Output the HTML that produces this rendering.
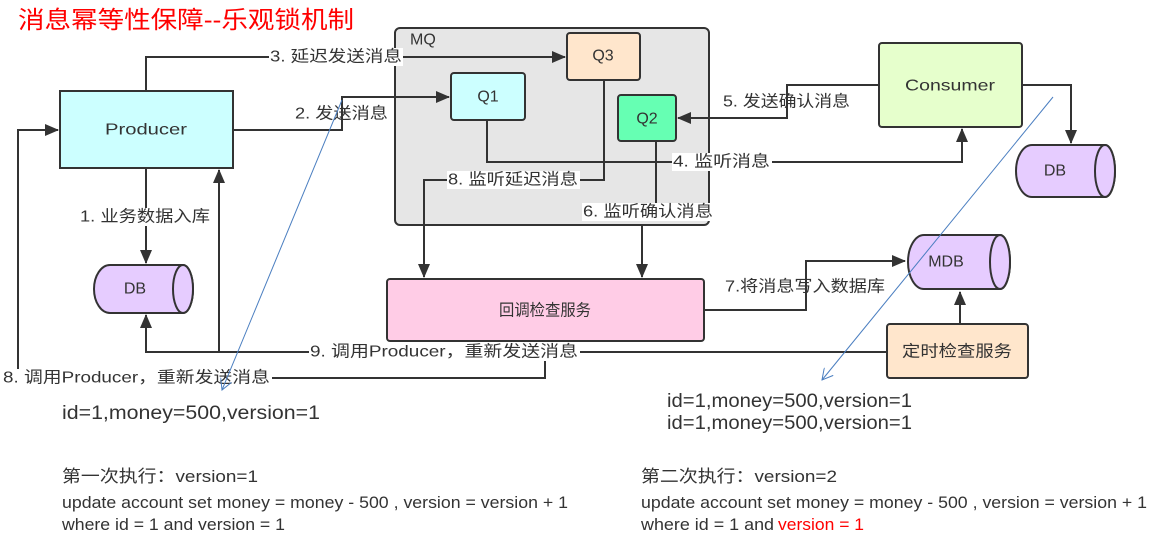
<!DOCTYPE html>
<html><head><meta charset="utf-8"><style>
body{margin:0;background:#fff;width:1159px;height:540px;overflow:hidden}
svg{display:block}
text{font-family:"Liberation Sans","Noto Sans CJK SC",sans-serif;fill:#333}
.n{font-size:16px;text-anchor:middle;dominant-baseline:central}
.e{font-size:16px;dominant-baseline:central}
.bg{fill:#fff}
</style></head><body>
<svg width="1159" height="540" viewBox="0 0 1159 540" xmlns="http://www.w3.org/2000/svg">
<defs>
<marker id="a" markerWidth="14" markerHeight="12" refX="13" refY="6" orient="auto" markerUnits="userSpaceOnUse"><path d="M0,0 L14,6 L0,12 Z" fill="#333"/></marker>
<marker id="b" markerWidth="12" markerHeight="12" refX="11" refY="6" orient="auto" markerUnits="userSpaceOnUse"><path d="M0,0 L11,6 L0,12" fill="none" stroke="#4a7ec0" stroke-width="1"/></marker>
</defs>
<text x="18" y="28" style="font-size:24px;fill:#f00" textLength="336" lengthAdjust="spacingAndGlyphs">消息幂等性保障--乐观锁机制</text>

<rect x="395" y="28" width="314" height="197" rx="5" fill="#e6e6e6" stroke="#333" stroke-width="2"/>
<text x="410" y="40" class="e">MQ</text>

<g fill="none" stroke="#333" stroke-width="2">
<path d="M146,91 V57 H565" marker-end="url(#a)"/>
<path d="M233,130 H342 V97 H449" marker-end="url(#a)"/>
<path d="M146,168 V263" marker-end="url(#a)"/>
<path d="M545,352 V378 H18 V130 H58" marker-end="url(#a)"/>
<path d="M887,352 H146 V315" marker-end="url(#a)"/>
<path d="M219,352 V170" marker-end="url(#a)"/>
<path d="M487,120 V162 H962 V129" marker-end="url(#a)"/>
<path d="M604,80 V180 H424 V277" marker-end="url(#a)"/>
<path d="M656,141 V212"/>
<path d="M642,225 V277" marker-end="url(#a)"/>
<path d="M879,85 H787 V118 H678" marker-end="url(#a)"/>
<path d="M1022,85 H1071 V143" marker-end="url(#a)"/>
<path d="M704,310 H806 V261 H905" marker-end="url(#a)"/>
<path d="M960,324 V292" marker-end="url(#a)"/>
</g>

<rect x="60" y="91" width="173" height="77" fill="#ccffff" stroke="#333" stroke-width="2"/>
<text x="146" y="130" class="n" textLength="82" lengthAdjust="spacingAndGlyphs">Producer</text>
<rect x="451" y="73" width="74" height="47" rx="3" fill="#ccffff" stroke="#333" stroke-width="2"/>
<text x="488" y="97" class="n">Q1</text>
<rect x="567" y="33" width="73" height="47" rx="3" fill="#ffe6cc" stroke="#333" stroke-width="2"/>
<text x="603" y="56" class="n">Q3</text>
<rect x="618" y="95" width="58" height="46" rx="3" fill="#66ffb3" stroke="#333" stroke-width="2"/>
<text x="647" y="119" class="n">Q2</text>
<rect x="879" y="43" width="143" height="84" rx="3" fill="#e6ffcc" stroke="#333" stroke-width="2"/>
<text x="950" y="86" class="n" textLength="90" lengthAdjust="spacingAndGlyphs">Consumer</text>
<rect x="387" y="279" width="317" height="62" rx="3" fill="#ffcce6" stroke="#333" stroke-width="2"/>
<text x="545" y="311" class="n" textLength="92" lengthAdjust="spacingAndGlyphs">回调检查服务</text>
<rect x="887" y="324" width="141" height="54" rx="3" fill="#ffe6cc" stroke="#333" stroke-width="2"/>
<text x="957" y="352" class="n" textLength="110" lengthAdjust="spacingAndGlyphs">定时检查服务</text>

<g stroke="#333" stroke-width="2" fill="#e6ccff">
<path d="M110,265 H183 A10,24 0 0 1 183,313 H110 A16,24 0 0 1 110,265 Z"/>
<ellipse cx="183" cy="289" rx="10" ry="24"/>
<path d="M1032,145 H1105 A10,26 0 0 1 1105,197 H1032 A16,26 0 0 1 1032,145 Z"/>
<ellipse cx="1105" cy="171" rx="10" ry="26"/>
<path d="M924,235 H1000 A10,27 0 0 1 1000,289 H924 A16,27 0 0 1 924,235 Z"/>
<ellipse cx="1000" cy="262" rx="10" ry="27"/>
</g>
<text x="135" y="289" class="n">DB</text>
<text x="1055" y="171" class="n">DB</text>
<text x="946" y="262" class="n">MDB</text>

<rect x="269" y="48" width="134" height="18" class="bg"/><text x="270" y="57" class="e" textLength="132" lengthAdjust="spacingAndGlyphs">3. 延迟发送消息</text>
<text x="295" y="114" class="e" textLength="93" lengthAdjust="spacingAndGlyphs">2. 发送消息</text>
<rect x="78" y="208" width="134" height="18" class="bg"/><text x="80" y="217" class="e" textLength="130" lengthAdjust="spacingAndGlyphs">1. 业务数据入库</text>
<rect x="672" y="153" width="100" height="18" class="bg"/><text x="673" y="162" class="e" textLength="97" lengthAdjust="spacingAndGlyphs">4. 监听消息</text>
<rect x="447" y="171" width="133" height="18" class="bg"/><text x="448" y="180" class="e" textLength="130" lengthAdjust="spacingAndGlyphs">8. 监听延迟消息</text>
<rect x="582" y="203" width="133" height="18" class="bg"/><text x="583" y="212" class="e" textLength="130" lengthAdjust="spacingAndGlyphs">6. 监听确认消息</text>
<text x="723" y="102" class="e" textLength="127" lengthAdjust="spacingAndGlyphs">5. 发送确认消息</text>
<text x="725" y="287" class="e" textLength="160" lengthAdjust="spacingAndGlyphs">7.将消息写入数据库</text>
<rect x="309" y="343" width="271" height="18" class="bg"/><text x="310" y="352" class="e" textLength="268" lengthAdjust="spacingAndGlyphs">9. 调用Producer，重新发送消息</text>
<rect x="0" y="369" width="272" height="18" class="bg"/><text x="3" y="378" class="e" textLength="267" lengthAdjust="spacingAndGlyphs">8. 调用Producer，重新发送消息</text>

<g stroke="#4a7ec0" stroke-width="1" fill="none">
<path d="M342,100 L222,390" marker-end="url(#b)"/>
<path d="M1053,97 L822,380" marker-end="url(#b)"/>
</g>

<text x="62" y="419" style="font-size:19px" textLength="258" lengthAdjust="spacingAndGlyphs">id=1,money=500,version=1</text>
<text x="667" y="407" style="font-size:19px" textLength="245" lengthAdjust="spacingAndGlyphs">id=1,money=500,version=1</text>
<text x="667" y="429" style="font-size:19px" textLength="245" lengthAdjust="spacingAndGlyphs">id=1,money=500,version=1</text>
<text x="62" y="482" style="font-size:17px" textLength="196" lengthAdjust="spacingAndGlyphs">第一次执行：version=1</text>
<text x="62" y="508" style="font-size:17px" textLength="506" lengthAdjust="spacingAndGlyphs">update account set money = money - 500 , version = version + 1</text>
<text x="62" y="530" style="font-size:17px" textLength="223" lengthAdjust="spacingAndGlyphs">where id = 1 and version = 1</text>
<text x="641" y="482" style="font-size:17px" textLength="196" lengthAdjust="spacingAndGlyphs">第二次执行：version=2</text>
<text x="641" y="508" style="font-size:17px" textLength="506" lengthAdjust="spacingAndGlyphs">update account set money = money - 500 , version = version + 1</text>
<text x="641" y="530" style="font-size:17px" textLength="133" lengthAdjust="spacingAndGlyphs">where id = 1 and</text>
<text x="778" y="530" style="font-size:17px;fill:#f00" textLength="86" lengthAdjust="spacingAndGlyphs">version = 1</text>
</svg>
</body></html>
